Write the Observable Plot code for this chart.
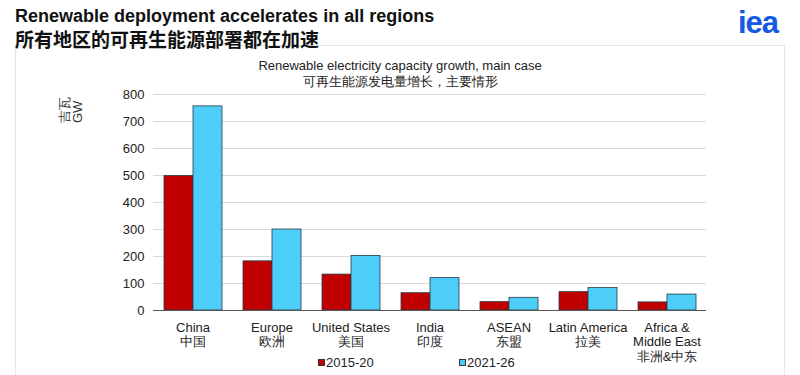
<!DOCTYPE html>
<html>
<head>
<meta charset="utf-8">
<script src="https://cdn.jsdelivr.net/npm/d3@7"></script>
<script src="https://cdn.jsdelivr.net/npm/@observablehq/plot@0.6"></script>
<style>
  html, body { margin: 0; padding: 0; background: #fff; }
  #wrap { position: relative; width: 800px; height: 375px; overflow: hidden; font-family: "Liberation Sans", Arial, sans-serif; }
  #box { position: absolute; left: 15px; top: 45px; width: 770px; height: 340px; border: 1px solid #e6e6e6; box-sizing: border-box; }
  .abs { position: absolute; white-space: nowrap; }
  #t1 { left: 15px; top: 6px; font-size: 18px; font-weight: bold; color: #111; }
  #t2 { left: 15px; top: 27px; font-size: 19px; font-weight: bold; color: #111; font-family: "Noto Sans CJK SC", sans-serif; line-height: 24px; }
  #logo { left: 738px; top: 5px; font-size: 31px; font-weight: 900; color: #1558e6; letter-spacing: -1px; font-family: "Liberation Sans", Arial, sans-serif; }
  #st { left: 0; width: 800px; top: 58px; text-align: center; font-size: 13px; color: #222; line-height: 16px; }
  #chart { position: absolute; left: 0; top: 0; }
  #ylab { left: 72px; top: 95px; font-size: 13px; color: #333; transform-origin: 0 0; transform: translate(-14px, 28px) rotate(-90deg); line-height: 13px; }
  #legend { left: 0; top: 355px; width: 800px; font-size: 13px; color: #222; }
  .lg { position: absolute; top: 0; display: flex; align-items: center; }
  .sw { display: inline-block; width: 7px; height: 7px; margin-right: 1px; box-sizing: border-box; border: 1px solid #333; }
</style>
</head>
<body>
<div id="wrap">
  <div id="box"></div>
  <div class="abs" id="t1">Renewable deployment accelerates in all regions</div>
  <div class="abs" id="t2">所有地区的可再生能源部署都在加速</div>
  <div class="abs" id="logo">iea</div>
  <div class="abs" id="st">Renewable electricity capacity growth, main case<br>可再生能源发电量增长，主要情形</div>
  <div id="chart"></div>
  <div class="abs" id="ylab">吉瓦<br>GW</div>
  <div class="abs" id="legend"></div>
</div>
<script>
// ---- data ----
const regions = ["China", "Europe", "United States", "India", "ASEAN", "Latin America", "Africa & Middle East"];
const regionLabels = ["China\n中国", "Europe\n欧洲", "United States\n美国", "India\n印度", "ASEAN\n东盟", "Latin America\n拉美", "Africa &\nMiddle East\n非洲&中东"];
const seriesNames = ["2015-20", "2021-26"];
const values2015_20 = [498, 182, 133, 64, 31, 68, 30];
const values2021_26 = [756, 300, 202, 120, 47, 83, 59];
const yTicks = [0, 100, 200, 300, 400, 500, 600, 700, 800];
const colors = ["#C00000", "#4DCEF8"];

const data = [];
regions.forEach((r, i) => {
  data.push({region: r, series: seriesNames[0], value: values2015_20[i]});
  data.push({region: r, series: seriesNames[1], value: values2021_26[i]});
});
const labelOf = new Map(regions.map((r, i) => [r, regionLabels[i]]));

const chart = Plot.plot({
  width: 800,
  height: 375,
  marginTop: 94,
  marginBottom: 65,
  marginLeft: 150,
  marginRight: 92,
  style: {fontFamily: "'Liberation Sans', Arial, sans-serif", fontSize: "13px", color: "#222", background: "transparent"},
  fx: {domain: regions, padding: 0, label: null},
  x: {domain: seriesNames, paddingInner: 0, paddingOuter: 0.36, axis: null},
  y: {domain: [0, 800], label: null},
  color: {domain: seriesNames, range: colors},
  marks: [
    Plot.gridY(yTicks, {stroke: "#d9d9d9", strokeOpacity: 1}),
    Plot.barY(data, {fx: "region", x: "series", y: "value", fill: "series", stroke: "#2a3a44", strokeWidth: 0.8}),
    Plot.ruleY([0], {stroke: "#555", strokeWidth: 1.2}),
    Plot.axisY({ticks: yTicks, tickSize: 0, tickPadding: 9, label: null, fontSize: 13}),
    Plot.axisFx({anchor: "bottom", tickSize: 0, tickPadding: 11, label: null, lineHeight: 1.12, fontSize: 13, tickFormat: d => labelOf.get(d)})
  ]
});
document.getElementById("chart").appendChild(chart);

// legend (HTML)
const legend = document.getElementById("legend");
const lx = [318, 459];
seriesNames.forEach((s, i) => {
  const item = document.createElement("div");
  item.className = "lg";
  item.style.left = lx[i] + "px";
  const sw = document.createElement("span");
  sw.className = "sw";
  sw.style.background = colors[i];
  const tx = document.createElement("span");
  tx.textContent = s;
  item.appendChild(sw);
  item.appendChild(tx);
  legend.appendChild(item);
});
</script>
</body>
</html>
